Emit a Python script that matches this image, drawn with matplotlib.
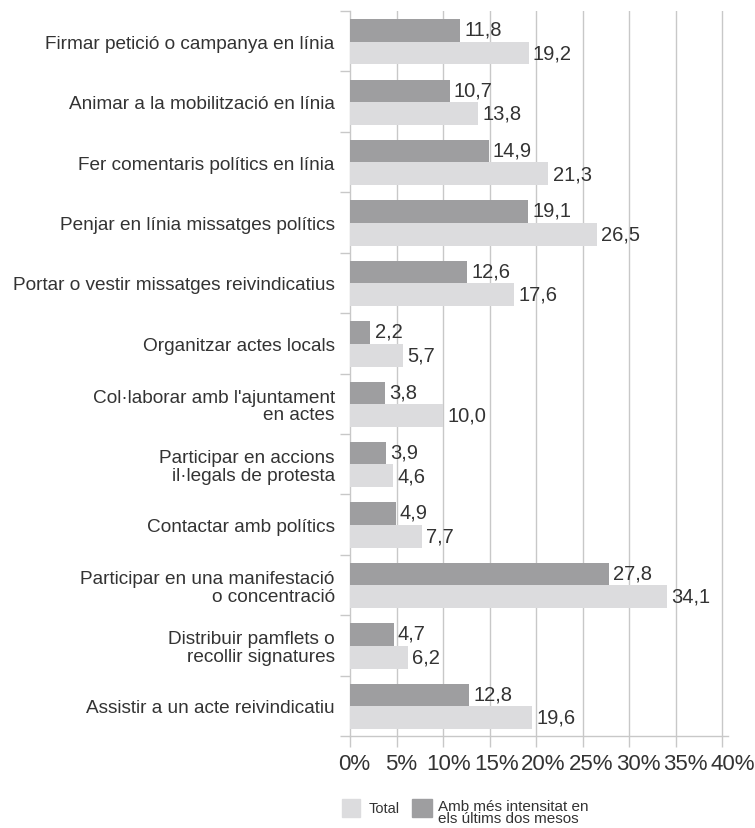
import matplotlib
matplotlib.use("Agg")
import matplotlib.pyplot as plt
import matplotlib.transforms as mtransforms
import numpy as np
from matplotlib.patches import Rectangle

plt.rcParams['font.family'] = ['Liberation Sans', 'DejaVu Sans']

categories = [
    "Firmar petició o campanya en línia",
    "Animar a la mobilització en línia",
    "Fer comentaris polítics en línia",
    "Penjar en línia missatges polítics",
    "Portar o vestir missatges reivindicatius",
    "Organitzar actes locals",
    "Col·laborar amb l'ajuntament\nen actes",
    "Participar en accions\nil·legals de protesta",
    "Contactar amb polítics",
    "Participar en una manifestació\no concentració",
    "Distribuir pamflets o\nrecollir signatures",
    "Assistir a un acte reivindicatiu",
]
intens = [11.8, 10.7, 14.9, 19.1, 12.6, 2.2, 3.8, 3.9, 4.9, 27.8, 4.7, 12.8]
total = [19.2, 13.8, 21.3, 26.5, 17.6, 5.7, 10.0, 4.6, 7.7, 34.1, 6.2, 19.6]
xticks = [0, 5, 10, 15, 20, 25, 30, 35, 40]
xticklabels = ["0%", "5%", "10%", "15%", "20%", "25%", "30%", "35%", "40%"]

dark = "#9e9ea0"
light = "#dcdcde"
txt = "#333333"
grid = "#c8c8c8"

fig = plt.figure(figsize=(7.55, 8.29), dpi=100)
ax = fig.add_axes([350/755, 1-737/829, (728-350)/755, (737-12)/829])

y = np.arange(len(categories))
h = 0.38
ax.barh(y - 0.175, intens, height=h, color=dark, zorder=3)
ax.barh(y + 0.195, total, height=h, color=light, zorder=3)

for yi, v in zip(y, intens):
    ax.text(v + 0.45, yi - 0.2, f"{v:.1f}".replace(".", ","), va="center", ha="left",
            fontsize=14.5, color=txt, zorder=4)
for yi, v in zip(y, total):
    ax.text(v + 0.45, yi + 0.19, f"{v:.1f}".replace(".", ","), va="center", ha="left",
            fontsize=14.5, color=txt, zorder=4)

ax.set_ylim(len(categories) - 0.5, -0.5)
ax.set_xlim(0, 40.6)

ax.set_xticks(xticks)
ax.set_xticklabels(xticklabels, fontsize=16, color=txt)
ax.tick_params(axis='x', length=8, width=1, color=grid, pad=4)
for i, lab in enumerate(ax.get_xticklabels()):
    dx = (4 + 0.85 * i) / 100.0
    lab.set_transform(lab.get_transform() + mtransforms.ScaledTranslation(dx, 0, fig.dpi_scale_trans))

ax.set_yticks(np.arange(len(categories) + 1) - 0.5)
ax.set_yticklabels([])
ax.set_yticks(y, minor=True)
ax.set_yticklabels(categories, minor=True, fontsize=13.7, color=txt, linespacing=1.05)
ax.tick_params(axis='y', which='major', length=7, width=1, color=grid)
ax.tick_params(axis='y', which='minor', length=0, pad=11)

for t in xticks[1:]:
    ax.axvline(t, color=grid, lw=1, zorder=1)

for s in ["top", "right"]:
    ax.spines[s].set_visible(False)
for s in ["left", "bottom"]:
    ax.spines[s].set_color(grid)
    ax.spines[s].set_linewidth(1)

# legend
fig.patches.append(Rectangle((342/755, 1-818/829), 18/755, 18/829, color=light, transform=fig.transFigure))
fig.text(369/755, 1-809/829, "Total", fontsize=10.5, color=txt, va="center", ha="left")
fig.patches.append(Rectangle((412/755, 1-818/829), 20/755, 18/829, color=dark, transform=fig.transFigure))
fig.text(438/755, 1-813/829, "Amb més intensitat en\nels últims dos mesos", fontsize=11, color=txt,
         va="center", ha="left", linespacing=0.88)

fig.savefig("out.png", dpi=100)
